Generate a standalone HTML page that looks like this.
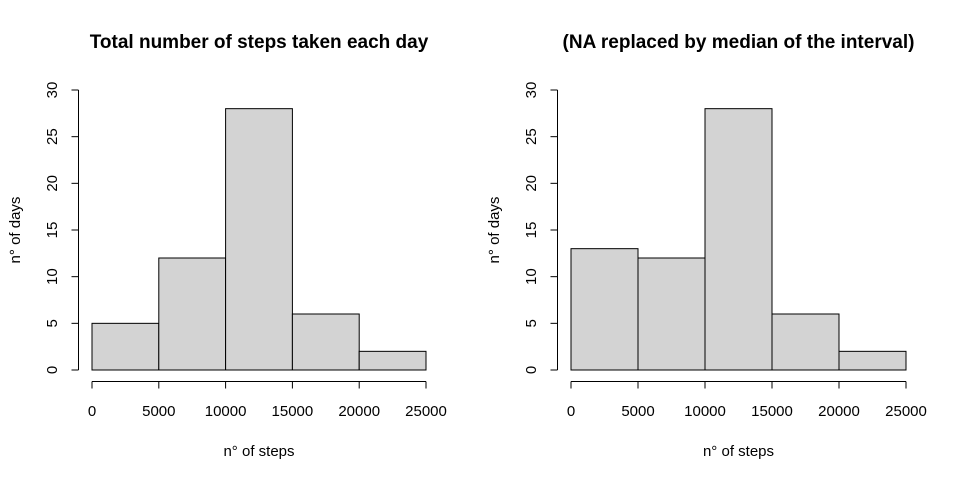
<!DOCTYPE html>
<html><head><meta charset="utf-8"><style>
body{margin:0;background:#fff}
svg text{font-family:"Liberation Sans",Arial,sans-serif;fill:#000}
</style></head><body>
<svg id="chart" width="960" height="480">
</svg>
<script>
const binEdges=[0,5000,10000,15000,20000,25000];
const countsLeft=[5,12,28,6,2];
const countsRight=[13,12,28,6,2];
const yTicks=[0,5,10,15,20,25,30];
const xTicks=[0,5000,10000,15000,20000,25000];
const titles=["Total number of steps taken each day","(NA replaced by median of the interval)"];
const svg=document.getElementById('chart');
const NS="http://www.w3.org/2000/svg";
function mk(tag,attrs,parent){const e=document.createElementNS(NS,tag);for(const k in attrs)e.setAttribute(k,attrs[k]);(parent||svg).appendChild(e);return e;}
const panels=[{x0:92,x1:426,counts:countsLeft,title:titles[0],name:'left'},{x0:571,x1:906,counts:countsRight,title:titles[1],name:'right'}];
const yBase=370,yTop=90,yMax=30;
panels.forEach(p=>{
 const g=mk('g',{});
 
 
 const xs=v=>p.x0+(v/25000)*(p.x1-p.x0);
 const ys=v=>yBase-(v/yMax)*(yBase-yTop);
 p.counts.forEach((c,i)=>{
  const r=mk('rect',{x:xs(binEdges[i]),y:ys(c),width:xs(binEdges[i+1])-xs(binEdges[i]),height:ys(0)-ys(c),fill:'#d3d3d3',stroke:'#000','stroke-width':1},g);
  
  
 });
 const xa=mk('g',{},g);
 
 
 mk('line',{x1:xs(xTicks[0]),x2:xs(xTicks[xTicks.length-1]),y1:381.5,y2:381.5,stroke:'#000'},xa);
 xTicks.forEach(t=>{
  mk('line',{x1:xs(t),x2:xs(t),y1:381.5,y2:388.5,stroke:'#000'},xa);
  const tx=mk('text',{x:xs(t),y:416,'text-anchor':'middle','font-size':15},xa);tx.textContent=t;
 });
 const xt=mk('text',{x:(p.x0+p.x1)/2,y:456,'text-anchor':'middle','font-size':15},g);
 xt.textContent='n° of steps';
 
 
 const ax=p.x0-14;
 const ya=mk('g',{},g);
 
 
 mk('line',{x1:ax+0.5,x2:ax+0.5,y1:ys(0),y2:ys(30),stroke:'#000'},ya);
 yTicks.forEach(t=>{
  mk('line',{x1:ax+0.5,x2:ax-6.5,y1:ys(t),y2:ys(t),stroke:'#000'},ya);
  const tx=mk('text',{x:0,y:0,'text-anchor':'middle','font-size':15,transform:`translate(${ax-21},${ys(t)}) rotate(-90)`},ya);tx.textContent=t;
 });
 const yt=mk('text',{x:0,y:0,'text-anchor':'middle','font-size':15,transform:`translate(${ax-58},${(yBase+yTop)/2}) rotate(-90)`},g);
 yt.textContent='n° of days';
 
 
 const tt=mk('text',{x:(p.x0+p.x1)/2,y:48,'text-anchor':'middle','font-size':19,'font-weight':'bold'},g);
 tt.textContent=p.title;
 
 
});
</script>
</body></html>
